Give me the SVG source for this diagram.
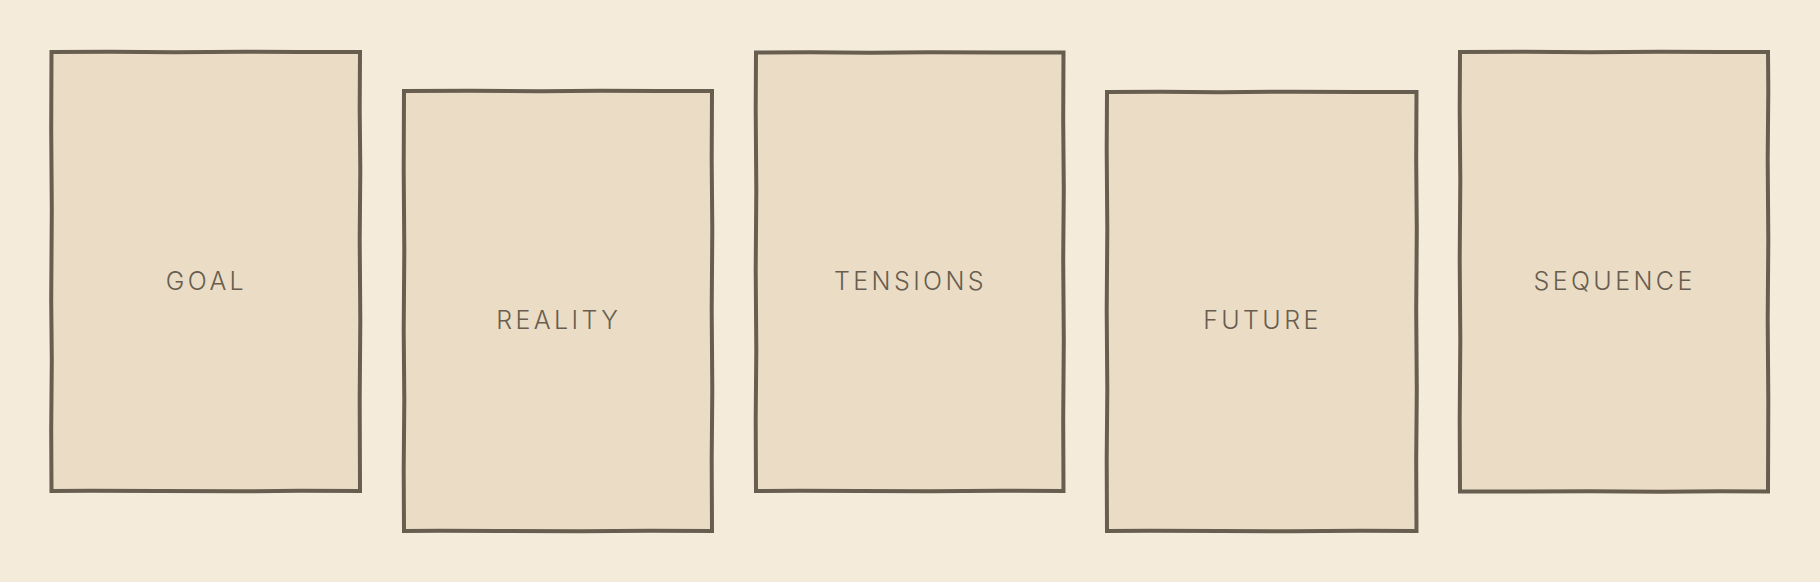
<svg xmlns="http://www.w3.org/2000/svg" width="1820" height="582" viewBox="0 0 1820 582">
  <style>
    .card { fill: #EBDCC6; stroke: #675E50; stroke-width: 4; stroke-linejoin: miter; }
    .label { font-family: Inter, "Noto Sans", "Liberation Sans", sans-serif; font-size: 25px; font-weight: 350; fill: #675E50; letter-spacing: 3.4px; text-anchor: middle; }
  </style>
  <rect x="0" y="0" width="1820" height="582" fill="#F5EBDA"/>
  <g id="connectors"></g>
  <g id="node-goal">
    <path class="card" d="M51.5,52 L110,51.7 L175,52.3 L245,51.7 L300,52 L360,52 L359.7,110 L360.3,170 L359.7,240 L360.3,320 L359.7,400 L360,491 L300,490.7 L240,491.3 L160,491 L90,490.7 L51.5,491 L51.2,430 L51.8,360 L51.2,300 L51.8,210 L51.2,130 Z"/>
    <text class="label" x="206.45" y="289.5">GOAL</text>
  </g>
  <g id="node-reality">
    <path class="card" d="M404,91 L470,90.7 L540,91.3 L600,90.7 L660,91 L712,91 L711.7,160 L712.3,230 L711.7,310 L712.3,390 L711.7,460 L712,531 L650,530.7 L580,531.3 L500,531 L440,530.7 L404,531 L403.7,470 L404.3,400 L403.7,330 L404.3,250 L403.7,170 Z"/>
    <text class="label" x="558.7" y="328.5">REALITY</text>
  </g>
  <g id="node-tensions">
    <path class="card" d="M756,52.5 L810,52.2 L870,52.8 L930,52.2 L1000,52.5 L1063.5,52.5 L1063.2,120 L1063.8,190 L1063.2,260 L1063.8,340 L1063.2,420 L1063.5,491 L1000,490.7 L930,491.3 L860,491 L800,490.7 L756,491 L755.7,420 L756.3,350 L755.7,270 L756.3,190 L755.7,110 Z"/>
    <text class="label" x="910.55" y="289.5">TENSIONS</text>
  </g>
  <g id="node-future">
    <path class="card" d="M1107,92 L1160,91.7 L1220,92.3 L1290,91.7 L1360,92 L1416.5,92 L1416.2,160 L1416.8,230 L1416.2,310 L1416.8,390 L1416.2,460 L1416.5,531 L1360,530.7 L1290,531.3 L1220,531 L1150,530.7 L1107,531 L1106.7,460 L1107.3,390 L1106.7,310 L1107.3,230 L1106.7,150 Z"/>
    <text class="label" x="1262.45" y="328.5">FUTURE</text>
  </g>
  <g id="node-sequence">
    <path class="card" d="M1460,52 L1520,51.7 L1590,52.3 L1660,51.7 L1720,52 L1768,52 L1768.3,90 L1767.7,160 L1768.3,240 L1767.7,320 L1768.3,400 L1768,491.5 L1720,491.2 L1660,491.8 L1590,491.2 L1520,491.5 L1460,491.5 L1459.7,420 L1460.3,340 L1459.7,260 L1460.3,180 L1459.7,110 Z"/>
    <text class="label" x="1614.6" y="289.5">SEQUENCE</text>
  </g>
</svg>
